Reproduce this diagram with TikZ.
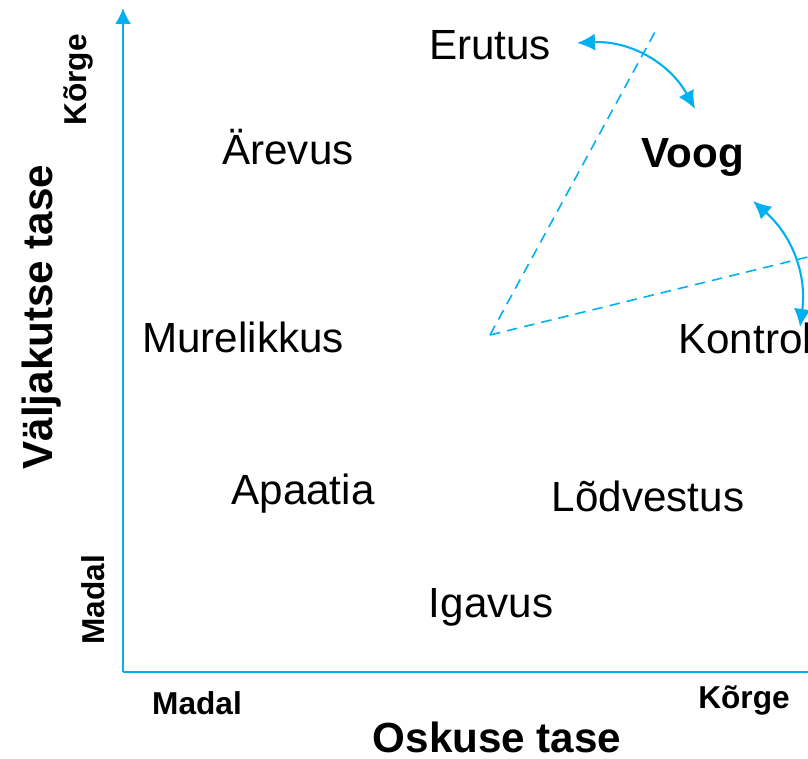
\documentclass[tikz,border=0pt]{standalone}
\usepackage{fontspec}
\setmainfont{Liberation Sans}
\usepackage{tikz}
\usetikzlibrary{arrows.meta, positioning}
\definecolor{flowblue}{HTML}{00B0F0}
\tikzset{
  axisline/.style={draw=flowblue, line width=1.2pt},
  zoneline/.style={draw=flowblue, line width=0.9pt, dash pattern=on 6pt off 4pt},
  swapline/.style={draw=flowblue, line width=1.2pt, {Latex[length=0.36cm,width=0.34cm]}-{Latex[length=0.36cm,width=0.34cm]}},
  zonetext/.style={font=\fontsize{24}{28}\selectfont, inner sep=0pt},
  axistitle/.style={font=\fontsize{24}{28}\selectfont\bfseries, inner sep=0pt},
  levellabel/.style={font=\fontsize{18}{22}\selectfont\bfseries, inner sep=0pt}
}

\begin{document}
\begin{tikzpicture}

\useasboundingbox (0,0) rectangle (16.16,15.18);
\clip (0,0) rectangle (16.16,15.18);

% Axes
\coordinate (corner) at (2.46,1.74);
\coordinate (ytop) at (2.46,15.02);
\coordinate (xend) at (16.6,1.74);
\draw[axisline, -{Latex[length=0.32cm,width=0.32cm]}] (corner) -- (ytop);
\draw[axisline] (corner) -- (xend);

% Axis titles and levels
\node[axistitle] (xtitle) at (9.94,0.44) {Oskuse tase};
\node[axistitle, rotate=90] (ytitle) at (0.84,8.84) {Väljakutse tase};
\node[levellabel] (xlow) at (3.94,1.12) {Madal};
\node[levellabel] (xhigh) at (14.88,1.18) {Kõrge};
\node[levellabel, rotate=90] (yhigh) at (1.56,13.58) {Kõrge};
\node[levellabel, rotate=90] (ylow) at (1.86,3.18) {Madal};

% Zone names
\node[zonetext] (erutus) at (9.8,14.28) {Erutus};
\node[zonetext] (arevus) at (5.76,12.24) {Ärevus};
\node[axistitle] (voog) at (13.86,12.04) {Voog};
\node[zonetext] (murelikkus) at (4.86,8.44) {Murelikkus};
\node[zonetext, anchor=west] (kontroll) at (13.56,8.42) {Kontroll};
\node[zonetext] (apaatia) at (6.06,5.3) {Apaatia};
\node[zonetext] (lodvestus) at (12.96,5.26) {Lõdvestus};
\node[zonetext] (igavus) at (9.82,3.04) {Igavus};

% Flow channel (dashed)
\coordinate (apex) at (9.8,8.48);
\coordinate (uppertip) at (13.1,14.54);
\coordinate (lowertip) at (16.4,10.1);
\draw[zoneline] (apex) -- (uppertip);
\draw[zoneline] (apex) -- (lowertip);

% Two-way arrows into flow
\coordinate (a1) at (11.54,14.32);
\coordinate (b1) at (13.9,13.0);
\coordinate (a2) at (15.06,11.16);
\coordinate (b2) at (16.0,8.64);
\draw[swapline] (a1) to[bend left=32] (b1);
\draw[swapline] (a2) to[bend left=28] (b2);

\end{tikzpicture}
\end{document}
